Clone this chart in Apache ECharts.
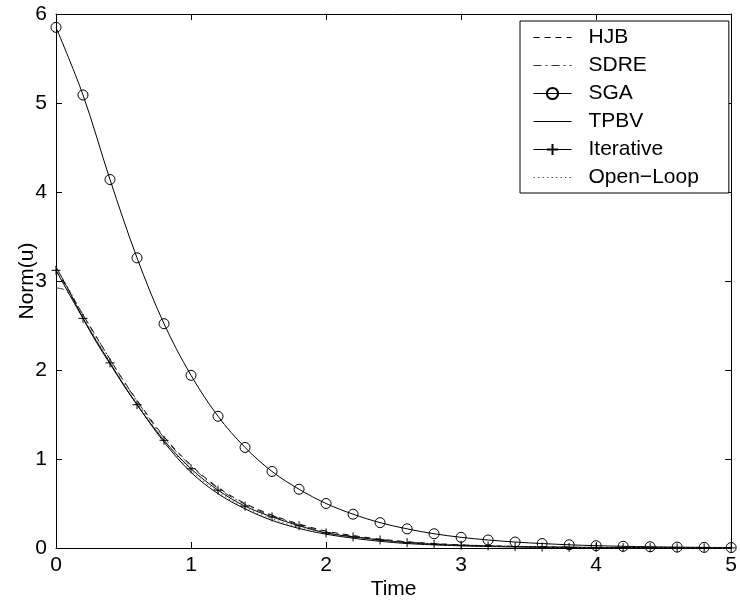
<!DOCTYPE html>
<html>
<head>
<meta charset="utf-8">
<title>Norm(u)</title>
<script src="https://cdn.jsdelivr.net/npm/echarts@6/dist/echarts.min.js"></script>
<style>
    html, body { margin: 0; padding: 0; background: #fff; }
    #chart { width: 740px; height: 608px; }
</style>
</head>
<body>
<div id="chart"></div>
<script>
// time grid of the marked curves (SGA, Iterative)
var timeMarked = [0, 0.2, 0.4, 0.6, 0.8, 1.0, 1.2, 1.4, 1.6, 1.8, 2.0, 2.2, 2.4,
    2.6, 2.8, 3.0, 3.2, 3.4, 3.6, 3.8, 4.0, 4.2, 4.4, 4.6, 4.8, 5.0];
// time grid of the plain curves
var timeFine = [0, 0.05, 0.1, 0.2, 0.3, 0.4, 0.5, 0.6, 0.8, 1.0, 1.2, 1.4, 1.6,
    1.8, 2.0, 2.2, 2.4, 2.6, 2.8, 3.0, 3.2, 3.4, 3.6, 3.8, 4.0, 4.5, 5.0];

var sgaValues = [5.85, 5.09, 4.14, 3.26, 2.52, 1.94, 1.48, 1.13, 0.86, 0.66, 0.50,
    0.38, 0.285, 0.215, 0.16, 0.12, 0.09, 0.067, 0.05, 0.036, 0.026, 0.019,
    0.014, 0.01, 0.007, 0.005];
var iterativeValues = [3.12, 2.58, 2.08, 1.61, 1.21, 0.89, 0.65, 0.47, 0.35, 0.25,
    0.17, 0.125, 0.09, 0.06, 0.042, 0.03, 0.022, 0.016, 0.011, 0.008, 0.006,
    0.004, 0.003, 0.002, 0.0015, 0.001];

var hjbValues = [3.12, 3.0, 2.88, 2.62, 2.37, 2.12, 1.88, 1.66, 1.25, 0.93, 0.68,
    0.50, 0.37, 0.27, 0.19, 0.14, 0.10, 0.07, 0.05, 0.035, 0.025, 0.018, 0.013,
    0.009, 0.006, 0.003, 0.0015];
var sdreValues = [2.92, 2.91, 2.85, 2.62, 2.37, 2.12, 1.88, 1.65, 1.24, 0.92, 0.67,
    0.49, 0.36, 0.26, 0.18, 0.13, 0.095, 0.068, 0.048, 0.034, 0.024, 0.017,
    0.012, 0.008, 0.006, 0.003, 0.0015];
var tpbvValues = [3.16, 3.02, 2.88, 2.58, 2.31, 2.07, 1.83, 1.61, 1.19, 0.85, 0.61,
    0.44, 0.31, 0.22, 0.155, 0.11, 0.075, 0.05, 0.035, 0.024, 0.017, 0.012,
    0.008, 0.006, 0.004, 0.002, 0.001];
var openLoopValues = [3.16, 3.03, 2.90, 2.61, 2.34, 2.09, 1.85, 1.63, 1.21, 0.87,
    0.63, 0.45, 0.33, 0.23, 0.165, 0.115, 0.08, 0.055, 0.038, 0.026, 0.018,
    0.013, 0.009, 0.006, 0.004, 0.002, 0.001];

var xTicks = [0, 5, 1];
var yTicks = [0, 6, 1];

var pairs = function (xs, ys) {
    var out = [];
    for (var i = 0; i < xs.length; i++) {
        out.push([xs[i], ys[i]]);
    }
    return out;
};

var fontName = 'Liberation Sans, Arial, sans-serif';
var fontSize = 21;

var plainAxis = function (pos, lo, hi, step, showLabel) {
    return {
        type: 'value',
        position: pos,
        min: lo,
        max: hi,
        interval: step,
        axisLine: {show: true, onZero: false, lineStyle: {color: '#000', width: 1}},
        axisTick: {show: true, inside: true, length: 6, lineStyle: {color: '#000'}},
        axisLabel: {show: showLabel, color: '#000', fontSize: fontSize, fontFamily: fontName, margin: 9},
        splitLine: {show: false}
    };
};

var xMain = plainAxis('bottom', xTicks[0], xTicks[1], xTicks[2], true);
xMain.name = 'Time';
xMain.nameLocation = 'middle';
xMain.nameGap = 31;
xMain.nameMoveOverlap = false;
xMain.nameTextStyle = {color: '#000', fontSize: fontSize, fontFamily: fontName};
xMain.axisLabel.margin = 7;

var yMain = plainAxis('left', yTicks[0], yTicks[1], yTicks[2], true);
yMain.name = 'Norm(u)';
yMain.nameLocation = 'middle';
yMain.nameGap = 18;
yMain.nameMoveOverlap = false;
yMain.nameTextStyle = {color: '#000', fontSize: fontSize, fontFamily: fontName};

var plusPath = 'path://M0,5L10,5M5,0L5,10';
var noMark = {color: 'rgba(0,0,0,0)', borderColor: 'rgba(0,0,0,0)', borderWidth: 0};

var chart = echarts.init(document.getElementById('chart'));
var option = {
    animation: false,
    backgroundColor: '#fff',
    grid: {left: 56, right: 7, top: 14, bottom: 60},
    xAxis: [xMain, plainAxis('top', xTicks[0], xTicks[1], xTicks[2], false)],
    yAxis: [yMain, plainAxis('right', yTicks[0], yTicks[1], yTicks[2], false)],
    legend: {
        orient: 'vertical',
        left: 520,
        top: 21,
        padding: [6, 30, 5, 13],
        itemWidth: 38,
        itemHeight: 14,
        itemGap: 7,
        backgroundColor: '#fff',
        borderColor: '#000',
        borderWidth: 1,
        borderRadius: 0,
        lineStyle: {width: 1},
        textStyle: {color: '#000', fontSize: fontSize, fontFamily: fontName, padding: [0, 0, 0, 12], lineHeight: 21},
        data: [
            {name: 'HJB', itemStyle: noMark},
            {name: 'SDRE', itemStyle: noMark},
            {name: 'SGA'},
            {name: 'TPBV', itemStyle: noMark},
            {name: 'Iterative'},
            {name: 'Open\u2212Loop', itemStyle: noMark}
        ]
    },
    series: [{
        name: 'HJB',
        type: 'line',
        smooth: 0.35,
        symbol: 'none',
        lineStyle: {color: '#000', width: 1, type: [6, 5]},
        itemStyle: {color: '#000'},
        data: pairs(timeFine, hjbValues)
    }, {
        name: 'SDRE',
        type: 'line',
        smooth: 0.35,
        symbol: 'none',
        lineStyle: {color: '#333', width: 1, type: [8, 4, 2, 4]},
        itemStyle: {color: '#333'},
        data: pairs(timeFine, sdreValues)
    }, {
        name: 'SGA',
        type: 'line',
        smooth: 0.35,
        symbol: 'circle',
        symbolSize: 10,
        lineStyle: {color: '#000', width: 1},
        itemStyle: {color: 'rgba(255,255,255,0)', borderColor: '#000', borderWidth: 1},
        data: pairs(timeMarked, sgaValues)
    }, {
        name: 'TPBV',
        type: 'line',
        smooth: 0.35,
        symbol: 'none',
        lineStyle: {color: '#000', width: 1},
        itemStyle: {color: '#000'},
        data: pairs(timeFine, tpbvValues)
    }, {
        name: 'Iterative',
        type: 'line',
        smooth: 0.35,
        symbol: plusPath,
        symbolSize: 9,
        lineStyle: {color: '#000', width: 1},
        itemStyle: {color: '#000', borderColor: '#000', borderWidth: 1},
        data: pairs(timeMarked, iterativeValues)
    }, {
        name: 'Open\u2212Loop',
        type: 'line',
        smooth: 0.35,
        symbol: 'none',
        lineStyle: {color: '#555', width: 1, type: [1.5, 3]},
        itemStyle: {color: '#555'},
        data: pairs(timeFine, openLoopValues)
    }]
};
chart.setOption(option);
</script>
</body>
</html>
